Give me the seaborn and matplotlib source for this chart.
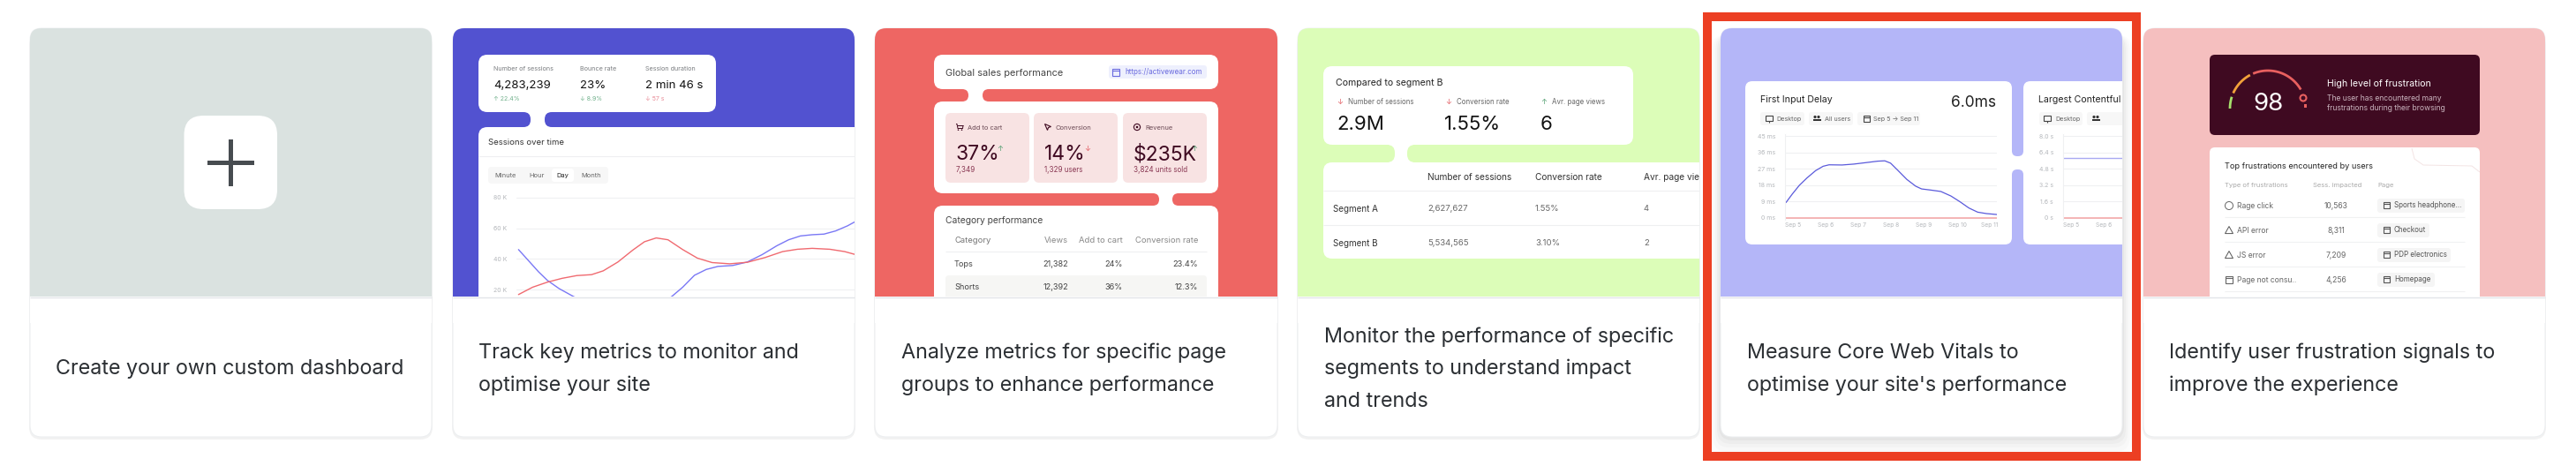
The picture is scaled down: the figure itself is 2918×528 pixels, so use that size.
import numpy as np
import matplotlib
matplotlib.use("Agg")
import matplotlib.pyplot as plt
from matplotlib.patches import FancyBboxPatch, Rectangle, Circle, Polygon
import seaborn as sns

sns.set_theme(style="white")
plt.rcParams['font.family'] = ['Inter', 'DejaVu Sans']

W, H = 2918, 528

# chart values
sessions_blue_x = [0, .38, .68, .98, 1.38, 1.88, 2.48, 3.48, 4.38, 4.88, 5.2, 5.58, 5.98, 6.38, 6.78,
                   7.28, 7.78, 8.28, 8.78, 9.18, 9.58, 9.98, 10.38, 10.78, 11.18, 11.42]
sessions_blue_k = [46.1, 38, 31.6, 26, 20.6, 15.3, 11, 7, 8, 12, 15.3, 21.5, 29.3, 33.1, 35.1,
                   35.7, 38, 42.8, 48.6, 52.5, 55, 55.8, 56.2, 58.3, 61.6, 64.1]
sessions_red_x = [0, .48, .98, 1.48, 1.98, 2.48, 2.88, 3.38, 3.88, 4.28, 4.68, 5.08, 5.58, 6.08, 6.58,
                  7.18, 7.78, 8.38, 8.98, 9.48, 9.98, 10.58, 11.08, 11.42]
sessions_red_k = [16.7, 21.5, 24.8, 27.3, 29.1, 29.7, 32.2, 38, 45.7, 51.2, 53.7, 52.5, 46.1, 40.5, 37.6,
                  36.8, 37.8, 40.9, 44.8, 46.3, 46.9, 46.3, 44.8, 43]
sessions_ticks = [20, 40, 60, 80]

fid_x = [5.03, 5.22, 5.44, 5.67, 5.94, 6.17, 6.35, 6.75, 7.11, 7.48, 7.84, 8.06, 8.24, 8.47, 8.74,
         9.01, 9.19, 9.46, 9.78, 10.09, 10.37, 10.64, 10.91, 11.18, 11.5]
fid_ms = [8.4, 13, 17.9, 21.9, 26, 28.4, 29.2, 29.1, 29.6, 30.4, 31.2, 31.4, 30.1, 26, 21.1,
          17.4, 15.9, 15.3, 14.5, 12, 8.8, 5.4, 3.1, 2.3, 1.8]
fid_ticks = [0, 9, 18, 27, 36, 45]
fid_base_x = [5, 11.5]
fid_base = [0, 0]
lcp_x = [5, 7]
lcp_s = [5.83, 5.83]
lcp_base = [0, 0]
lcp_ticks = [0, 1.6, 3.2, 4.8, 6.4, 8.0]
lcp_labels = ["0 s", "1.6 s", "3.2 s", "4.8 s", "6.4 s", "8.0 s"]
day_ticks = [5, 6, 7, 8, 9, 10, 11]

# texts
captions = [["Create your own custom dashboard"],
            ["Track key metrics to monitor and", "optimise your site"],
            ["Analyze metrics for specific page", "groups to enhance performance"],
            ["Monitor the performance of specific", "segments to understand impact", "and trends"],
            ["Measure Core Web Vitals to", "optimise your site's performance"],
            ["Identify user frustration signals to", "improve the experience"]]
session_heads = ["Number of sessions", "Bounce rate", "Session duration"]
session_values = ["4,283,239", "23%", "2 min 46 s"]
session_deltas = ["↑ 22.4%", "↓ 8.9%", "↓ 57 s"]
tabs = ["Minute", "Hour", "Day", "Month"]
tile_heads = ["Add to cart", "Conversion", "Revenue"]
tile_values = ["37%", "14%", "$235K"]
tile_subs = ["7,349", "1,329 users", "3,824 units sold"]
category_heads = ["Views", "Add to cart", "Conversion rate"]
category_rows = [["Tops", "21,382", "24%", "23.4%"], ["Shorts", "12,392", "36%", "12.3%"]]
segment_heads = ["Number of sessions", "Conversion rate", "Avr. page views"]
segment_values = ["2.9M", "1.55%", "6"]
segment_rows = [["Segment A", "2,627,627", "1.55%", "4"], ["Segment B", "5,534,565", "3.10%", "2"]]
frustration_rows = [["Rage click", "10,563", "Sports headphone..."], ["API error", "8,311", "Checkout"],
                    ["JS error", "7,209", "PDP electronics"], ["Page not consu..", "4,256", "Homepage"]]

card_x = [(34, 489), (513, 968), (991, 1447), (1470, 1925), (1949, 2404), (2428, 2883)]
card_colors = ['#dae2e0', '#5252d0', '#ee6663', '#dcfdb8', '#b4b6f8', '#f5bfbf']
caption_x = [63, 542, 1021, 1500, 1979, 2457]
CARD_TOP, IMG_BOTTOM, CARD_BOTTOM = 32, 336, 495

fig = plt.figure(figsize=(W / 100, H / 100), dpi=100, facecolor='white')
ax = fig.add_axes([0, 0, 1, 1])
ax.set_xlim(0, W)
ax.set_ylim(H, 0)
ax.axis('off')
clip = None


def card_clip(i):
    x0, x1 = card_x[i]
    return Rectangle((x0, CARD_TOP), x1 - x0, IMG_BOTTOM - CARD_TOP, transform=ax.transData)


def box(x0, y0, x1, y1, color, r=10, **kw):
    p = FancyBboxPatch((x0, y0), x1 - x0, y1 - y0, boxstyle=f"round,pad=0,rounding_size={r}",
                       facecolor=color, edgecolor=kw.pop('edgecolor', 'none'), linewidth=kw.pop('lw', 0), **kw)
    ax.add_patch(p)
    if clip is not None:
        p.set_clip_path(clip)
    return p


def label(x, y, s, size, color='#333333', ha='left', **kw):
    # y is the middle of the cap height
    t = ax.text(x, y + 0.36 * size * 100 / 72, s, fontsize=size, color=color, ha=ha, va='baseline', **kw)
    if clip is not None:
        t.set_clip_path(clip)
        t.set_clip_on(True)
    return t


def line(xs, ys, color, lw=0.8):
    l, = ax.plot(xs, ys, color=color, lw=lw, solid_capstyle='butt')
    if clip is not None:
        l.set_clip_path(clip)
    return l


def monitor_icon(x, y, color='#444444', s=4):
    ax.add_patch(Rectangle((x - s, y - s), 2 * s, 1.5 * s, fill=False, edgecolor=color, lw=0.8))
    line([x, x], [y + s * .5, y + s], color, 0.8)


def page_icon(x, y, color='#444444', s=3.5):
    ax.add_patch(Rectangle((x - s, y - s), 2 * s, 2 * s, fill=False, edgecolor=color, lw=0.8))
    line([x - s, x + s], [y - s * .4, y - s * .4], color, 0.8)


def triangle_icon(x, y, color='#555555', s=4.5):
    ax.add_patch(Polygon([(x, y - s), (x + s, y + s * .8), (x - s, y + s * .8)], fill=False, edgecolor=color, lw=0.7))


def users_icon(x, y, color='#333333'):
    ax.add_patch(Circle((x - 2, y - 1.5), 1.6, color=color, lw=0))
    ax.add_patch(Circle((x + 2, y - 1.5), 1.6, color=color, lw=0))
    ax.add_patch(Rectangle((x - 4.5, y + 0.5), 9, 2.5, color=color, lw=0))


def cart_icon(x, y, color='#3f0a21'):
    line([x - 4, x - 3, x - 2, x + 3.5, x + 4], [y - 3.5, y - 3.5, y + 1.5, y + 1.5, y - 2], color, 0.7)
    line([x - 3, x + 4], [y - 2, y - 2], color, 0.7)
    ax.add_patch(Circle((x - 1.5, y + 3.2), 0.8, color=color, lw=0))
    ax.add_patch(Circle((x + 2.5, y + 3.2), 0.8, color=color, lw=0))


def cursor_icon(x, y, color='#3f0a21'):
    ax.add_patch(Polygon([(x - 3.5, y - 3.5), (x + 3.5, y - 0.5), (x + 0.5, y + 0.5), (x - 0.5, y + 3.5)],
                         fill=False, edgecolor=color, lw=0.8))


def coin_icon(x, y, color='#3f0a21'):
    ax.add_patch(Circle((x, y), 3.6, fill=False, edgecolor=color, lw=0.8))
    ax.add_patch(Circle((x, y), 1.3, color=color, lw=0))


def chart_axes(x0, y0, x1, y1, xlim, ylim, yticks, ylabels, spine=False, pad=6):
    a = fig.add_axes([x0 / W, 1 - y1 / H, (x1 - x0) / W, (y1 - y0) / H], facecolor='none')
    a.set_xlim(*xlim)
    a.set_ylim(*ylim)
    a.set_yticks(yticks)
    a.set_yticklabels(ylabels, fontsize=5, color='#b4b7bb')
    a.grid(axis='y', color='#eff0f2', lw=0.8)
    a.tick_params(axis='both', length=0, pad=pad)
    sns.despine(ax=a, top=True, right=True, bottom=True, left=not spine)
    if spine:
        a.spines['left'].set_color('#eff0f2')
        a.spines['left'].set_linewidth(0.8)
    a.set_xticks([])
    a.set_xlabel('')
    a.set_ylabel('')
    return a


def day_axis(a):
    ticks = [d for d in day_ticks if d <= a.get_xlim()[1]]
    a.set_xticks(ticks)
    a.set_xticklabels([f"Sep {d}" for d in ticks], fontsize=4.8, color='#b4b7bb', ha='left')
    a.tick_params(axis='x', pad=2)


# cards
for i, (x0, x1) in enumerate(card_x):
    clip = None
    if i == 4:
        for grow, alpha in [(22, .012), (17, .015), (12, .02), (8, .025), (4, .03)]:
            box(x0 - grow / 2, 40, x1 + grow / 2, CARD_BOTTOM + grow, 'black', r=16, alpha=alpha)
    else:
        box(x0 - 1, 38, x1 + 1, CARD_BOTTOM + 3, 'black', r=14, alpha=.05)
    box(x0, CARD_TOP, x1, CARD_BOTTOM, 'white', r=13, edgecolor='#eceef0', lw=0.7)
    box(x0, CARD_TOP, x1, 360, card_colors[i], r=13)
    ax.add_patch(Rectangle((x0, IMG_BOTTOM), x1 - x0, 30, facecolor='white', lw=0))
    line([x0, x1], [IMG_BOTTOM + .5, IMG_BOTTOM + .5], '#e3e5e9', 1.0)
    for j, s in enumerate(captions[i]):
        n = len(captions[i])
        label(caption_x[i], 416 + (j - (n - 1) / 2) * 36.4, s, 16.8, '#2b2f33')

# red outline around the highlighted card, on top of its shadow
ax.add_patch(Rectangle((1934, 19), 486, 498, fill=False, edgecolor='#ec3f23', lw=7.2, joinstyle='miter'))

# card 1: plus button
box(208.5, 131, 314, 237, 'white', r=22)
ax.add_patch(Rectangle((235, 181.5), 53, 5, color='#474c50', lw=0))
ax.add_patch(Rectangle((259, 158), 5, 53, color='#474c50', lw=0))

# card 2: sessions
clip = card_clip(1)
box(542, 62, 811, 127, 'white', r=10)
box(542, 144, 1000, 380, 'white', r=10)
ax.add_patch(Rectangle((590, 120), 38, 30, color='white', lw=0))
box(513, 127, 601, 144, card_colors[1], r=8)
box(617, 127, 990, 144, card_colors[1], r=8)
for x, head, val, delta, col in zip([559, 657, 731], session_heads, session_values, session_deltas,
                                    ['#6fb08a', '#6fb08a', '#e88a96']):
    label(x, 77, head, 5.2, '#7a7d80')
    label(x, 95.5, val, 9.5, '#111111')
    label(x, 111, delta, 5, col)
label(553, 161, "Sessions over time", 6.9)
line([542, 968], [177, 177], '#eeeff1', 0.8)
box(553, 189, 689, 208, '#f7f7f7', r=4)
box(625, 191, 650, 206, 'white', r=3)
for cx, tab in zip([573, 608, 637.5, 670], tabs):
    label(cx, 198, tab, 5.4, '#222222' if tab == "Day" else '#666666', ha='center')
a = chart_axes(585, 220, 968, IMG_BOTTOM, (-.07, 11.42), (15.4, 82.3), sessions_ticks,
               [f"{v} K" for v in sessions_ticks], pad=8)
sns.lineplot(x=sessions_blue_x, y=sessions_blue_k, ax=a, color='#7a78f5', lw=1.0, sort=False, errorbar=None)
sns.lineplot(x=sessions_red_x, y=sessions_red_k, ax=a, color='#f06a70', lw=1.0, sort=False, errorbar=None)

# card 3: page groups
clip = card_clip(2)
box(1058, 62, 1380, 101, 'white', r=10)
box(1058, 115, 1380, 219, 'white', r=10)
box(1058, 233, 1380, 380, 'white', r=10)
ax.add_patch(Rectangle((1090, 95), 30, 26, color='white', lw=0))
ax.add_patch(Rectangle((1306, 213), 30, 26, color='white', lw=0))
box(1000, 101, 1097, 115, card_colors[2], r=7)
box(1113, 101, 1440, 115, card_colors[2], r=7)
box(1000, 219, 1313, 233, card_colors[2], r=7)
box(1328, 219, 1440, 233, card_colors[2], r=7)
label(1071, 82, "Global sales performance", 7.9, '#444444')
box(1256, 74, 1367, 89, '#eef0fd', r=3)
page_icon(1264, 81.5, '#6a6adf', 4)
label(1274, 81, "https://activewear.com", 5.8, '#6a6adf')
tile_x = [(1071, 1166), (1171, 1266), (1272, 1367)]
for k, (x0, x1) in enumerate(tile_x):
    box(x0, 128, x1, 207, '#f8e3e3', r=6)
    label(x0 + 25, 144, tile_heads[k], 5.4, '#6b4a55')
    label(x0 + 12, 173, tile_values[k], 16.5, '#3f0a21')
    label(x0 + 12, 192, tile_subs[k], 5.8, '#8b3a55')
cart_icon(1087, 144)
cursor_icon(1187, 144)
coin_icon(1288, 144)
for x, s, col in [(1133, "↑", '#4f9e6e'), (1232, "↓", '#e25a60'), (1353, "↑", '#4f9e6e')]:
    label(x, 168, s, 6, col, ha='center')
label(1071, 249, "Category performance", 7.4, '#444444')
label(1081, 272, "Category", 6.8, '#777777')
for x, s in zip([1210, 1272, 1357], category_heads):
    label(x, 272, s, 6.8, '#888888', ha='right')
line([1071, 1367], [285, 285], '#eeeff1', 0.8)
box(1071, 312, 1367, 370, '#f6f6f4', r=4)
for y, row in zip([299, 325], category_rows):
    label(1081, y, row[0], 6.6, '#444444')
    for x, s in zip([1210, 1272, 1357], row[1:]):
        label(x, y, s, 6.6, '#444444', ha='right')

# card 4: segments
clip = card_clip(3)
box(1499, 75, 1850, 164, 'white', r=10)
box(1499, 184, 1960, 293, 'white', r=10)
ax.add_patch(Rectangle((1573, 158), 28, 32, color='white', lw=0))
box(1480, 164, 1580, 184, card_colors[3], r=9)
box(1594, 164, 1950, 184, card_colors[3], r=9)
label(1513, 93, "Compared to segment B", 7.6, '#222222')
for xa, xt, xv, col, arrow, head, val in zip([1518, 1641, 1749], [1527, 1650, 1758], [1514, 1636, 1745],
                                             ['#e25a60', '#e25a60', '#4f9e6e'], "↓↓↑", segment_heads, segment_values):
    label(xa, 115, arrow, 6, col, ha='center')
    label(xt, 115, head, 5.7, '#666666')
    label(xv, 139, val, 16, '#111111')
for x, s in zip([1617, 1739, 1862], segment_heads):
    label(x, 200, s, 7.3, '#333333')
line([1499, 1925], [216, 216], '#eeeff1', 0.8)
line([1499, 1925], [255, 255], '#eeeff1', 0.8)
for y, row in zip([236, 275], segment_rows):
    label(1510, y, row[0], 7.1, '#333333')
    for x, s in zip([1617, 1739, 1862], row[1:]):
        label(x, y, s, 6.9, '#666666')

# card 5: web vitals
clip = card_clip(4)
box(1977, 92, 2279, 277, 'white', r=8)
box(2292, 92, 2440, 277, 'white', r=8)
ax.add_patch(Rectangle((2275, 170), 21, 29, color='white', lw=0))
box(2279, 85, 2292, 177, card_colors[4], r=6)
box(2279, 192, 2292, 285, card_colors[4], r=6)
label(1994, 112, "First Input Delay", 7.6, '#222222')
label(2261, 115, "6.0ms", 12.5, '#222222', ha='right')
for x0, x1, tx, s in [(1994, 2044, 2012, "Desktop"), (2049, 2099, 2067, "All users"),
                      (2104, 2175, 2122, "Sep 5 → Sep 11"), (2310, 2359, 2328, "Desktop"), (2364, 2450, None, "")]:
    box(x0, 127, x1, 142, '#f7f7f7', r=3)
    if tx:
        label(tx, 134.5, s, 5.2, '#666666')
monitor_icon(2004, 134.5)
users_icon(2058, 134)
page_icon(2114, 134.5)
monitor_icon(2319, 134.5)
users_icon(2374, 134)
label(2309, 112, "Largest Contentful Paint", 7.6, '#222222')
a = chart_axes(2022, 152, 2262, 249, (5, 11.5), (-1.1, 46.1), fid_ticks, [f"{v} ms" for v in fid_ticks],
               spine=True, pad=8)
sns.lineplot(x=fid_base_x, y=fid_base, ax=a, color='#f4a3a3', lw=1.1, errorbar=None)
sns.lineplot(x=fid_x, y=fid_ms, ax=a, color='#5a5adb', lw=0.9, sort=False, errorbar=None)
day_axis(a)
a = chart_axes(2337, 152, 2404, 249, (5, 6.82), (-.2, 8.2), lcp_ticks, lcp_labels, spine=True, pad=8)
sns.lineplot(x=lcp_x, y=lcp_base, ax=a, color='#f4a3a3', lw=1.1, errorbar=None)
sns.lineplot(x=lcp_x, y=lcp_s, ax=a, color='#a9a9f2', lw=1.0, errorbar=None)
day_axis(a)

# card 6: frustration
clip = card_clip(5)
box(2503, 62, 2809, 153, '#3f0a21', r=6)
for t0, t1, col in [(180, 162, '#a6e06c'), (156, 118, '#f2a23a'), (113, 30, '#e8605f')]:
    th = np.radians(np.linspace(t0, t1, 40))
    line(2569 + 43 * np.cos(th), 123 - 43 * np.sin(th), col, 2.0)
ax.add_patch(Circle((2609, 111), 3.5, fill=False, edgecolor='#e8605f', lw=1.5))
ax.add_patch(Rectangle((2610, 118), 3, 4, color='#e8605f', lw=0))
label(2569, 115, "98", 20, 'white', ha='center')
label(2636, 94, "High level of frustration", 7.6, 'white')
label(2636, 111, "The user has encountered many", 6.2, '#c9b3bd')
label(2636, 122, "frustrations during their browsing", 6.2, '#c9b3bd')
box(2503, 167, 2809, 380, 'white', r=6)
line([2732, 2735, 2745, 2800, 2809], [168, 180, 187, 188, 195], '#f3e4e4', 0.7)
label(2520, 188, "Top frustrations encountered by users", 6.6, '#222222')
label(2520, 209, "Type of frustrations", 5.5, '#aaaaaa')
label(2620, 209, "Sess. impacted", 5.5, '#aaaaaa')
label(2693, 209, "Page", 5.5, '#aaaaaa')
chip_right = [2792, 2752, 2776, 2758]
for k, (y, row) in enumerate(zip([233, 261, 289, 317], frustration_rows)):
    label(2534, y, row[0], 6.2, '#666666')
    label(2646, y, row[1], 6.2, '#666666', ha='center')
    box(2693, y - 8, chip_right[k], y + 8, '#f5f5f5', r=3)
    label(2712, y - .5, row[2], 5.8, '#555555')
    page_icon(2703, y - .5, '#555555', 3.5)
    line([2520, 2792], [y + 13, y + 13], '#f0f1f2', 0.8)
    if k == 0:
        ax.add_patch(Circle((2525, y), 4.5, fill=False, edgecolor='#666666', lw=0.7))
    elif k < 3:
        triangle_icon(2525, y)
    else:
        page_icon(2525, y, '#666666', 4)

fig.savefig('out.png', dpi=100, facecolor='white')
